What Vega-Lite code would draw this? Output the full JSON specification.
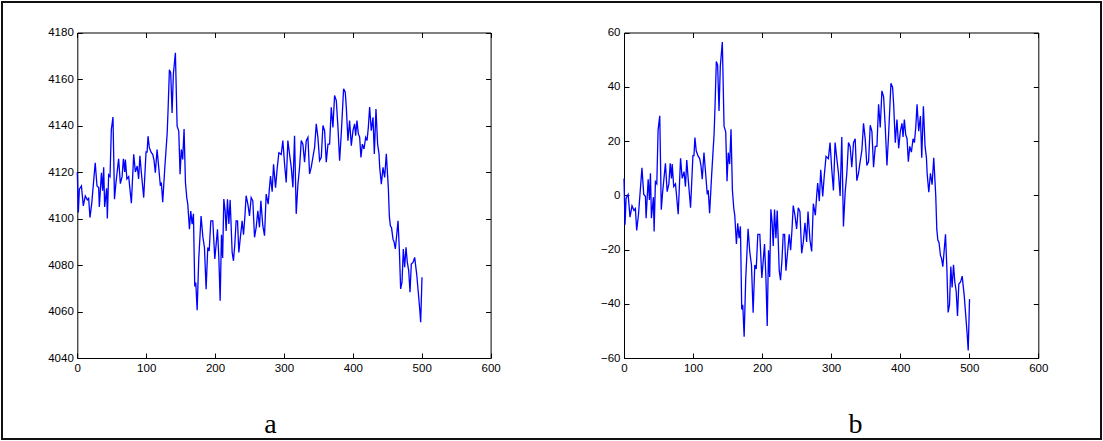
{
  "$schema": "https://vega.github.io/schema/vega-lite/v6.json",
  "width": 1099,
  "height": 437,
  "autosize": "none",
  "padding": 2,
  "background": "white",
  "config": {
    "view": {"stroke": "#111", "strokeWidth": 2},
    "axis": {
      "grid": false,
      "domainColor": "#000",
      "domainWidth": 1,
      "tickColor": "#000",
      "tickWidth": 1,
      "tickSize": -5,
      "labelPadding": 9,
      "labelColor": "#000",
      "labelFont": "Liberation Sans Narrow, Arial Narrow, Liberation Sans, sans-serif",
      "labelFontSize": 11.5,
      "labelFlush": false,
      "labelOverlap": false
    }
  },
  "data": {"values": [
    {"x":0,"a":4120,"b":6.2},{"x":1.5,"a":4102.6,"b":-10.9},{"x":3,"a":4112.6,"b":-1.1},{"x":6,"a":4114,"b":0.3},
    {"x":8.7,"a":4105.4,"b":-8.1},{"x":11.6,"a":4109.7,"b":-3.9},{"x":14.5,"a":4108,"b":-5.6},{"x":16.5,"a":4108.7,"b":-4.9},
    {"x":18.4,"a":4100.4,"b":-13.0},{"x":21,"a":4106.6,"b":-7.0},{"x":26,"a":4124,"b":10.1},{"x":28.6,"a":4114,"b":0.3},
    {"x":31,"a":4113.3,"b":-0.4},{"x":32,"a":4105,"b":-8.5},{"x":35,"a":4119.7,"b":5.9},{"x":36.8,"a":4112,"b":-1.7},
    {"x":38.3,"a":4122,"b":8.1},{"x":39.7,"a":4105,"b":-8.5},{"x":42.6,"a":4113,"b":-0.7},{"x":43.6,"a":4100,"b":-13.4},
    {"x":45.5,"a":4118.8,"b":5.0},{"x":47.5,"a":4118,"b":4.2},{"x":49.4,"a":4138.3,"b":24.1},{"x":51.8,"a":4143.6,"b":29.3},
    {"x":54,"a":4108.3,"b":-5.3},{"x":56,"a":4115,"b":1.3},{"x":60,"a":4125.7,"b":11.8},{"x":62.5,"a":4115,"b":1.3},
    {"x":65,"a":4118,"b":4.2},{"x":66.9,"a":4125.7,"b":11.8},{"x":68.8,"a":4120,"b":6.2},{"x":69.8,"a":4125.4,"b":11.5},
    {"x":72,"a":4117,"b":3.2},{"x":74.6,"a":4118,"b":4.2},{"x":78.5,"a":4106.6,"b":-7.0},{"x":81.9,"a":4127.6,"b":13.6},
    {"x":84.3,"a":4120,"b":6.2},{"x":87,"a":4122.6,"b":8.7},{"x":89,"a":4117,"b":3.2},{"x":90.9,"a":4127,"b":13.0},
    {"x":92.9,"a":4120,"b":6.2},{"x":96.4,"a":4109,"b":-4.6},{"x":99.8,"a":4128.6,"b":14.6},{"x":101.3,"a":4128.6,"b":14.6},
    {"x":102.7,"a":4135.4,"b":21.3},{"x":104.6,"a":4130.4,"b":16.4},{"x":107.5,"a":4128.3,"b":14.3},{"x":109.5,"a":4127.6,"b":13.6},
    {"x":111.4,"a":4125,"b":11.1},{"x":113.3,"a":4119.7,"b":5.9},{"x":115.8,"a":4129.7,"b":15.7},{"x":118.2,"a":4122,"b":8.1},
    {"x":120.6,"a":4114,"b":0.3},{"x":122,"a":4115.5,"b":1.8},{"x":124,"a":4107,"b":-6.6},{"x":127,"a":4121.7,"b":7.8},
    {"x":128.9,"a":4129.9,"b":15.9},{"x":130.5,"a":4136.8,"b":22.7},{"x":131.8,"a":4146.9,"b":32.6},{"x":133.7,"a":4164,"b":49.3},
    {"x":135.6,"a":4162.6,"b":48.0},{"x":137.6,"a":4145.4,"b":31.1},{"x":139.5,"a":4162.3,"b":47.7},{"x":142.4,"a":4171.3,"b":56.5},
    {"x":144.9,"a":4139.7,"b":25.5},{"x":147.3,"a":4137.6,"b":23.4},{"x":149.2,"a":4119,"b":5.2},{"x":151,"a":4129.7,"b":15.7},
    {"x":153,"a":4125.4,"b":11.5},{"x":155,"a":4138.5,"b":24.3},{"x":157,"a":4115.5,"b":1.8},{"x":158.9,"a":4109,"b":-4.6},
    {"x":160.4,"a":4106.2,"b":-7.4},{"x":162.8,"a":4095.4,"b":-18.0},{"x":164.7,"a":4103.2,"b":-10.3},{"x":166.7,"a":4097.6,"b":-15.8},
    {"x":168.6,"a":4102,"b":-11.5},{"x":170.5,"a":4070.8,"b":-42.1},{"x":172,"a":4072.5,"b":-40.4},{"x":174,"a":4060.5,"b":-52.2},
    {"x":176.3,"a":4082.5,"b":-30.6},{"x":179.7,"a":4101.1,"b":-12.4},{"x":182.2,"a":4092.3,"b":-21.0},{"x":184.6,"a":4087.5,"b":-25.7},
    {"x":187,"a":4069.6,"b":-43.3},{"x":189.4,"a":4087.5,"b":-25.7},{"x":191.5,"a":4086,"b":-27.2},{"x":193.8,"a":4099,"b":-14.4},
    {"x":196.7,"a":4099,"b":-14.4},{"x":199.6,"a":4082.6,"b":-30.5},{"x":201.6,"a":4089,"b":-24.2},{"x":203.5,"a":4095.4,"b":-18.0},
    {"x":205.5,"a":4083,"b":-30.1},{"x":207.4,"a":4064.6,"b":-48.2},{"x":209.3,"a":4093,"b":-20.3},{"x":211,"a":4083,"b":-30.1},
    {"x":212.7,"a":4108.4,"b":-5.2},{"x":214.6,"a":4103.3,"b":-10.2},{"x":216.1,"a":4094.6,"b":-18.7},{"x":218,"a":4108.3,"b":-5.3},
    {"x":220,"a":4097.6,"b":-15.8},{"x":221.9,"a":4108,"b":-5.6},{"x":224.8,"a":4085.4,"b":-27.8},{"x":226.7,"a":4081.8,"b":-31.3},
    {"x":228.7,"a":4089,"b":-24.2},{"x":230.6,"a":4099,"b":-14.4},{"x":232.6,"a":4099,"b":-14.4},{"x":234.5,"a":4085.4,"b":-27.8},
    {"x":236.4,"a":4091,"b":-22.3},{"x":239.3,"a":4099,"b":-14.4},{"x":241.3,"a":4093,"b":-20.3},{"x":243.2,"a":4100.4,"b":-13.0},
    {"x":245.1,"a":4109.8,"b":-3.8},{"x":247.6,"a":4106.2,"b":-7.4},{"x":250,"a":4101.1,"b":-12.4},{"x":252.4,"a":4109,"b":-4.6},
    {"x":254.8,"a":4107.6,"b":-6.0},{"x":257.3,"a":4091.9,"b":-21.4},{"x":259.7,"a":4096.2,"b":-17.2},{"x":262.1,"a":4103.3,"b":-10.2},
    {"x":264.5,"a":4096.2,"b":-17.2},{"x":266.5,"a":4107.6,"b":-6.0},{"x":269.3,"a":4096.9,"b":-16.5},{"x":271.8,"a":4092.6,"b":-20.7},
    {"x":274.2,"a":4110.5,"b":-3.1},{"x":277.1,"a":4106.2,"b":-7.4},{"x":279,"a":4113.4,"b":-0.3},{"x":280.5,"a":4118.3,"b":4.5},
    {"x":282.9,"a":4111.5,"b":-2.2},{"x":284.9,"a":4123.3,"b":9.4},{"x":287.8,"a":4113.3,"b":-0.4},{"x":290,"a":4121,"b":7.2},
    {"x":292.6,"a":4128.3,"b":14.3},{"x":296,"a":4127.5,"b":13.5},{"x":298.4,"a":4133.5,"b":19.4},{"x":300.9,"a":4123.4,"b":9.5},
    {"x":303.3,"a":4115.5,"b":1.8},{"x":305.7,"a":4133.5,"b":19.4},{"x":308.1,"a":4127.8,"b":13.8},{"x":310.6,"a":4122,"b":8.1},
    {"x":313,"a":4113.4,"b":-0.3},{"x":315.4,"a":4135.6,"b":21.5},{"x":317.8,"a":4102,"b":-11.5},{"x":320.3,"a":4114.8,"b":1.1},
    {"x":322.7,"a":4122,"b":8.1},{"x":325.1,"a":4133.5,"b":19.4},{"x":327.5,"a":4132,"b":18.0},{"x":329.9,"a":4124.2,"b":10.3},
    {"x":332.4,"a":4133.5,"b":19.4},{"x":334.8,"a":4134.9,"b":20.8},{"x":337.2,"a":4119.2,"b":5.4},{"x":339.6,"a":4122,"b":8.1},
    {"x":342,"a":4126.3,"b":12.4},{"x":344.5,"a":4130.6,"b":16.6},{"x":346.9,"a":4140.7,"b":26.5},{"x":349.3,"a":4134.9,"b":20.8},
    {"x":351.7,"a":4124.9,"b":11.0},{"x":354.2,"a":4126.3,"b":12.4},{"x":356.6,"a":4140,"b":25.8},{"x":359,"a":4137.8,"b":23.6},
    {"x":361.4,"a":4124.2,"b":10.3},{"x":363.9,"a":4132,"b":18.0},{"x":366.3,"a":4132,"b":18.0},{"x":368.7,"a":4147.8,"b":33.5},
    {"x":371.1,"a":4139.2,"b":25.0},{"x":373.5,"a":4152.9,"b":38.5},{"x":376,"a":4150.7,"b":36.3},{"x":378.4,"a":4139.2,"b":25.0},
    {"x":380.8,"a":4124.9,"b":11.0},{"x":383.2,"a":4136.4,"b":22.3},{"x":386.6,"a":4155.8,"b":41.3},{"x":389,"a":4154.3,"b":39.8},
    {"x":390.5,"a":4147.9,"b":33.5},{"x":392.9,"a":4133.5,"b":19.4},{"x":395.3,"a":4142.1,"b":27.9},{"x":397.8,"a":4131.3,"b":17.3},
    {"x":400.2,"a":4137.8,"b":23.6},{"x":402.6,"a":4140.7,"b":26.5},{"x":404.1,"a":4135.6,"b":21.5},{"x":406,"a":4142.1,"b":27.9},
    {"x":408,"a":4136.4,"b":22.3},{"x":409.9,"a":4135,"b":20.9},{"x":411.8,"a":4126.3,"b":12.4},{"x":413.8,"a":4132,"b":18.0},
    {"x":416.2,"a":4129.9,"b":15.9},{"x":418.6,"a":4134.9,"b":20.8},{"x":420.6,"a":4133.5,"b":19.4},{"x":422.5,"a":4139.2,"b":25.0},
    {"x":424.4,"a":4147.9,"b":33.5},{"x":426.8,"a":4137.8,"b":23.6},{"x":429.3,"a":4143.5,"b":29.2},{"x":431.2,"a":4127.8,"b":13.8},
    {"x":433.6,"a":4147.1,"b":32.8},{"x":436,"a":4132,"b":18.0},{"x":438,"a":4127.8,"b":13.8},{"x":439,"a":4122,"b":8.1},
    {"x":441.4,"a":4114.8,"b":1.1},{"x":443.8,"a":4122,"b":8.1},{"x":446.2,"a":4117.7,"b":3.9},{"x":448.6,"a":4127.8,"b":13.8},
    {"x":451.5,"a":4113.4,"b":-0.3},{"x":453,"a":4101,"b":-12.5},{"x":454.5,"a":4096.9,"b":-16.5},{"x":456.2,"a":4096,"b":-17.4},
    {"x":458.3,"a":4091.1,"b":-22.2},{"x":459.8,"a":4090,"b":-23.2},{"x":461.7,"a":4086.9,"b":-26.3},{"x":463.6,"a":4092.6,"b":-20.7},
    {"x":465.6,"a":4099,"b":-14.4},{"x":467.5,"a":4086.9,"b":-26.3},{"x":469.4,"a":4069.7,"b":-43.2},{"x":471.4,"a":4072.6,"b":-40.3},
    {"x":473.3,"a":4086.9,"b":-26.3},{"x":475.2,"a":4079,"b":-34.0},{"x":477.2,"a":4087.6,"b":-25.6},{"x":479.1,"a":4081.1,"b":-32.0},
    {"x":481.1,"a":4077.6,"b":-35.4},{"x":483,"a":4068.3,"b":-44.5},{"x":484.9,"a":4080.4,"b":-32.7},{"x":487.4,"a":4081.1,"b":-32.0},
    {"x":489.8,"a":4083.3,"b":-29.8},{"x":491.2,"a":4079.7,"b":-33.4},{"x":492.7,"a":4076.1,"b":-36.9},{"x":494.6,"a":4069.7,"b":-43.2},
    {"x":497.1,"a":4061.1,"b":-51.6},{"x":498.5,"a":4055.4,"b":-57.2},{"x":500.4,"a":4074.7,"b":-38.3}
  ]},
  "layer": [
    {
      "mark": {"type": "line", "color": "#0000ff", "strokeWidth": 1.3},
      "encoding": {
        "x": {"field": "x", "type": "quantitative",
          "scale": {"domain": [0, 600], "range": [75.3, 488.6], "nice": false, "zero": false},
          "axis": {"orient": "bottom", "offset": -81, "values": [0,100,200,300,400,500,600], "format": "d",
            "title": "a", "titleX": 268, "titleY": 74, "titleBaseline": "alphabetic", "titleAlign": "center",
            "titleFont": "Liberation Serif", "titleFontSize": 28, "titleFontWeight": "normal", "titleColor": "#000"}},
        "y": {"field": "a", "type": "quantitative",
          "scale": {"domain": [4040, 4180], "range": [356, 30.5], "nice": false, "zero": false},
          "axis": {"orient": "left", "offset": -75.3, "values": [4040,4060,4080,4100,4120,4140,4160,4180], "format": "d", "title": null}}
      }
    },
    {
      "mark": {"type": "line", "opacity": 0},
      "encoding": {
        "x": {"field": "x", "type": "quantitative",
          "scale": {"domain": [0, 600], "range": [75.3, 488.6], "nice": false, "zero": false},
          "axis": {"orient": "top", "offset": -30.5, "values": [0,100,200,300,400,500,600], "labels": false, "title": null}},
        "y": {"field": "a", "type": "quantitative",
          "scale": {"domain": [4040, 4180], "range": [356, 30.5], "nice": false, "zero": false},
          "axis": {"orient": "right", "offset": -610.4, "values": [4040,4060,4080,4100,4120,4140,4160,4180], "labels": false, "title": null}}
      }
    },
    {
      "mark": {"type": "line", "color": "#0000ff", "strokeWidth": 1.3},
      "encoding": {
        "x": {"field": "x", "type": "quantitative",
          "scale": {"domain": [0, 600], "range": [622, 1036.3], "nice": false, "zero": false},
          "axis": {"orient": "bottom", "offset": -81, "values": [0,100,200,300,400,500,600], "format": "d",
            "title": "b", "titleX": 853, "titleY": 74, "titleBaseline": "alphabetic", "titleAlign": "center",
            "titleFont": "Liberation Serif", "titleFontSize": 28, "titleFontWeight": "normal", "titleColor": "#000"}},
        "y": {"field": "b", "type": "quantitative",
          "scale": {"domain": [-60, 60], "range": [356, 30.5], "nice": false, "zero": false},
          "axis": {"orient": "left", "offset": -622, "values": [-60,-40,-20,0,20,40,60], "format": "d", "title": null}}
      }
    },
    {
      "mark": {"type": "line", "opacity": 0},
      "encoding": {
        "x": {"field": "x", "type": "quantitative",
          "scale": {"domain": [0, 600], "range": [622, 1036.3], "nice": false, "zero": false},
          "axis": {"orient": "top", "offset": -30.5, "values": [0,100,200,300,400,500,600], "labels": false, "title": null}},
        "y": {"field": "b", "type": "quantitative",
          "scale": {"domain": [-60, 60], "range": [356, 30.5], "nice": false, "zero": false},
          "axis": {"orient": "right", "offset": -62.7, "values": [-60,-40,-20,0,20,40,60], "labels": false, "title": null}}
      }
    }
  ],
  "resolve": {"scale": {"x": "independent", "y": "independent"}}
}
